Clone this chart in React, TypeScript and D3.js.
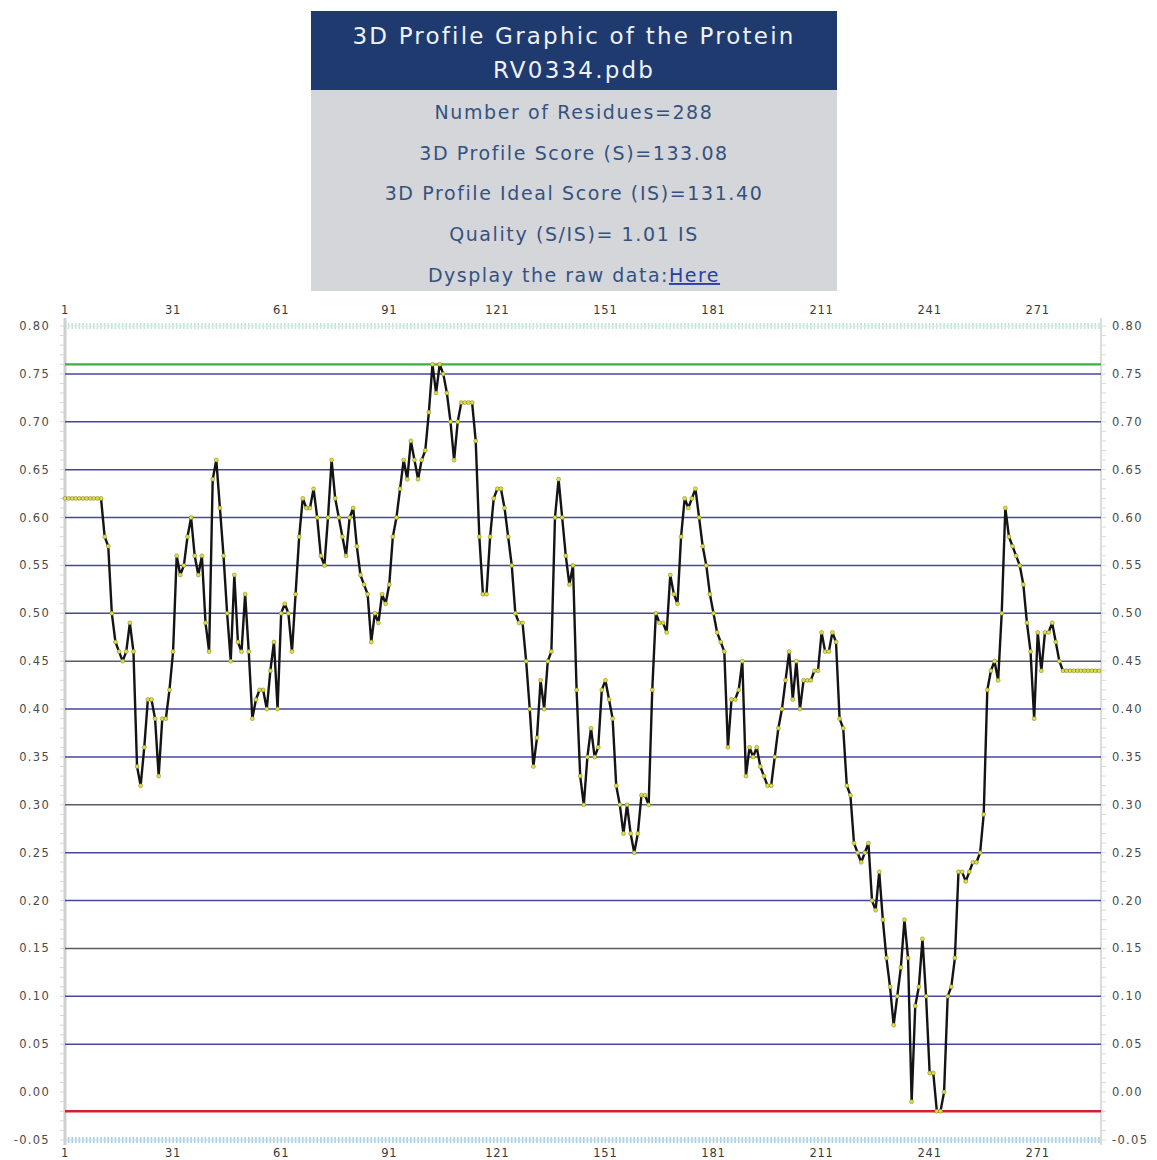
import React from "react";
import * as d3 from "d3";

// 3D profile (Verify3D-style) averaged scores per residue, RV0334.pdb
const scores: number[] = [
  0.62, 0.62, 0.62, 0.62, 0.62, 0.62, 0.62, 0.62, 0.62, 0.62,
  0.62, 0.58, 0.57, 0.50, 0.47, 0.46, 0.45, 0.46, 0.49, 0.46,
  0.34, 0.32, 0.36, 0.41, 0.41, 0.39, 0.33, 0.39, 0.39, 0.42,
  0.46, 0.56, 0.54, 0.55, 0.58, 0.60, 0.56, 0.54, 0.56, 0.49,
  0.46, 0.64, 0.66, 0.61, 0.56, 0.50, 0.45, 0.54, 0.47, 0.46,
  0.52, 0.46, 0.39, 0.41, 0.42, 0.42, 0.40, 0.44, 0.47, 0.40,
  0.50, 0.51, 0.50, 0.46, 0.52, 0.58, 0.62, 0.61, 0.61, 0.63,
  0.60, 0.56, 0.55, 0.60, 0.66, 0.62, 0.60, 0.58, 0.56, 0.60,
  0.61, 0.57, 0.54, 0.53, 0.52, 0.47, 0.50, 0.49, 0.52, 0.51,
  0.53, 0.58, 0.60, 0.63, 0.66, 0.64, 0.68, 0.66, 0.64, 0.66,
  0.67, 0.71, 0.76, 0.73, 0.76, 0.75, 0.73, 0.70, 0.66, 0.70,
  0.72, 0.72, 0.72, 0.72, 0.68, 0.58, 0.52, 0.52, 0.58, 0.62,
  0.63, 0.63, 0.61, 0.58, 0.55, 0.50, 0.49, 0.49, 0.45, 0.40,
  0.34, 0.37, 0.43, 0.40, 0.45, 0.46, 0.60, 0.64, 0.60, 0.56,
  0.53, 0.55, 0.42, 0.33, 0.30, 0.35, 0.38, 0.35, 0.36, 0.42,
  0.43, 0.41, 0.39, 0.32, 0.30, 0.27, 0.30, 0.27, 0.25, 0.27,
  0.31, 0.31, 0.30, 0.42, 0.50, 0.49, 0.49, 0.48, 0.54, 0.52,
  0.51, 0.58, 0.62, 0.61, 0.62, 0.63, 0.60, 0.57, 0.55, 0.52,
  0.50, 0.48, 0.47, 0.46, 0.36, 0.41, 0.41, 0.42, 0.45, 0.33,
  0.36, 0.35, 0.36, 0.34, 0.33, 0.32, 0.32, 0.35, 0.38, 0.40,
  0.43, 0.46, 0.41, 0.45, 0.40, 0.43, 0.43, 0.43, 0.44, 0.44,
  0.48, 0.46, 0.46, 0.48, 0.47, 0.39, 0.38, 0.32, 0.31, 0.26,
  0.25, 0.24, 0.25, 0.26, 0.20, 0.19, 0.23, 0.18, 0.14, 0.11,
  0.07, 0.10, 0.13, 0.18, 0.14, -0.01, 0.09, 0.11, 0.16, 0.10,
  0.02, 0.02, -0.02, -0.02, 0.00, 0.10, 0.11, 0.14, 0.23, 0.23,
  0.22, 0.23, 0.24, 0.24, 0.25, 0.29, 0.42, 0.44, 0.45, 0.43,
  0.50, 0.61, 0.58, 0.57, 0.56, 0.55, 0.53, 0.49, 0.46, 0.39,
  0.48, 0.44, 0.48, 0.48, 0.49, 0.47, 0.45, 0.44, 0.44, 0.44,
  0.44, 0.44, 0.44, 0.44, 0.44, 0.44, 0.44, 0.44,
];

const residueTicks: number[] = [1, 31, 61, 91, 121, 151, 181, 211, 241, 271];
const scoreTicks: number[] = [
  0.8, 0.75, 0.7, 0.65, 0.6, 0.55, 0.5, 0.45, 0.4, 0.35, 0.3, 0.25, 0.2,
  0.15, 0.1, 0.05, 0.0, -0.05,
];
const gridValues: number[] = [
  0.75, 0.7, 0.65, 0.6, 0.55, 0.5, 0.45, 0.4, 0.35, 0.3, 0.25, 0.2, 0.15,
  0.1, 0.05,
];
const darkGridValues: number[] = [0.45, 0.3, 0.15];

const headerTitle: string[] = ["3D Profile Graphic of the Protein", "RV0334.pdb"];
const headerLines: string[] = [
  "Number of Residues=288",
  "3D Profile Score (S)=133.08",
  "3D Profile Ideal Score (IS)=131.40",
  "Quality (S/IS)= 1.01 IS",
];

const W = 1157;
const H = 1160;
const FONT = "'DejaVu Sans', Verdana, sans-serif";

export default function App() {
  const n = scores.length;
  const x = d3.scaleLinear().domain([1, n]).range([65, 1099]);
  const y = d3.scaleLinear().domain([-0.05, 0.8]).range([1140, 326]);
  const left = 65;
  const right = 1101;

  const maxV = d3.max(scores) as number;
  const minV = d3.min(scores) as number;

  const line = d3
    .line<number>()
    .x((_, i) => x(i + 1))
    .y((d) => y(d));

  const residues = d3.range(1, n + 1);
  const minorTicks = d3.range(-5, 81).map((k) => k / 100);

  return (
    <svg
      width={W}
      height={H}
      style={{ position: "absolute", left: 0, top: 0, display: "block", background: "#fff" }}
      fontFamily={FONT}
    >
      {/* header panel */}
      <g>
        <rect x={311} y={11} width={526} height={79} fill="#1f3a6e" />
        <rect x={311} y={90} width={526} height={201} fill="#d4d6da" />
        {headerTitle.map((t, i) => (
          <text
            key={t}
            x={574}
            y={44 + i * 34}
            textAnchor="middle"
            fontSize={23}
            letterSpacing={2.2}
            fill="#eef1f7"
          >
            {t}
          </text>
        ))}
        {headerLines.map((t, i) => (
          <text
            key={t}
            x={574}
            y={119 + i * 40.7}
            textAnchor="middle"
            fontSize={19}
            letterSpacing={1.6}
            fill="#34527f"
          >
            {t}
          </text>
        ))}
        <text x={574} y={282} textAnchor="middle" fontSize={19} letterSpacing={1.5} fill="#34527f">
          Dysplay the raw data:
          <tspan fill="#2a3ea8" textDecoration="underline">Here</tspan>
        </text>
      </g>

      {/* residue tick bands along top and bottom */}
      {residues.map((r) => (
        <g key={`rt${r}`}>
          <line x1={x(r)} x2={x(r)} y1={323} y2={329} stroke="#c5e3dd" strokeWidth={1.6} />
          <line x1={x(r)} x2={x(r)} y1={1137} y2={1143} stroke="#a6cfe3" strokeWidth={1.6} />
        </g>
      ))}
      <line x1={left} x2={right} y1={326} y2={326} stroke="#d9eeea" strokeWidth={1} />
      <line x1={left} x2={right} y1={1140} y2={1140} stroke="#c2def0" strokeWidth={1} />

      {/* side axes */}
      <line x1={left} x2={left} y1={318} y2={1145} stroke="#cfcfcf" strokeWidth={3} />
      <line x1={right} x2={right} y1={318} y2={1145} stroke="#dcdcdc" strokeWidth={2} />
      {minorTicks.map((v) => (
        <g key={`mt${v}`}>
          <line x1={left - 5} x2={left} y1={y(v)} y2={y(v)} stroke="#d6d6d6" strokeWidth={1} />
          <line x1={right} x2={right + 5} y1={y(v)} y2={y(v)} stroke="#dadada" strokeWidth={1} />
        </g>
      ))}

      {/* horizontal grid */}
      {gridValues.map((v) => (
        <line
          key={`g${v}`}
          x1={left}
          x2={right}
          y1={y(v)}
          y2={y(v)}
          stroke={darkGridValues.includes(v) ? "#5a5a6a" : "#4646a4"}
          strokeWidth={1.5}
        />
      ))}

      {/* max / min reference lines */}
      <line x1={left} x2={right} y1={y(maxV)} y2={y(maxV)} stroke="#3fae45" strokeWidth={2.2} />
      <line x1={left} x2={right} y1={y(minV)} y2={y(minV)} stroke="#d4202e" strokeWidth={2.6} />

      {/* score labels */}
      {scoreTicks.map((v) => (
        <g key={`yl${v}`} fontSize={11.5} letterSpacing={1.3} fill="#4a4a4a">
          <text x={50} y={y(v) + 4} textAnchor="end">
            {v.toFixed(2)}
          </text>
          <text x={1112} y={y(v) + 4} textAnchor="start">
            {v.toFixed(2)}
          </text>
        </g>
      ))}

      {/* residue labels */}
      {residueTicks.map((r) => (
        <g key={`xl${r}`} fontSize={11.5} letterSpacing={0.8} fill="#3a3a3a" textAnchor="middle">
          <text x={x(r)} y={314}>
            {r}
          </text>
          <text x={x(r)} y={1157}>
            {r}
          </text>
        </g>
      ))}

      {/* profile line and residue markers */}
      <path d={line(scores) ?? ""} fill="none" stroke="#141414" strokeWidth={2.4} strokeLinejoin="round" />
      {scores.map((v, i) => (
        <circle key={`p${i}`} cx={x(i + 1)} cy={y(v)} r={2} fill="#dede45" stroke="#7d7d20" strokeWidth={0.5} />
      ))}
    </svg>
  );
}
